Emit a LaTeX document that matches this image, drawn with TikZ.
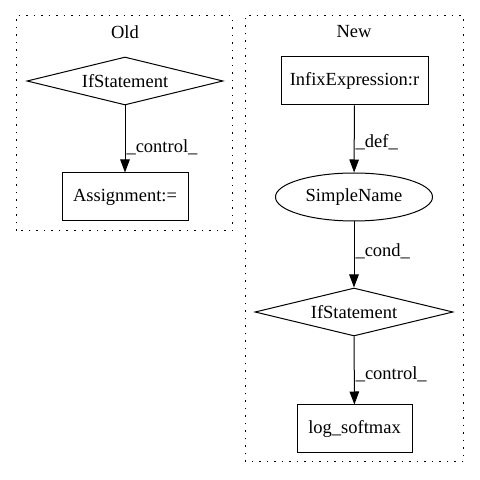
\documentclass[tikz,border=0pt]{standalone}
\usepackage{fontspec}
\setmainfont{Liberation Serif}
\usetikzlibrary{positioning, arrows.meta, shapes.geometric}
\tikzset{
  astnode/.style={
    draw=black, line width=1pt, fill=white,
    minimum height=48pt, inner sep=2pt,
    font=\fontsize{18.5}{22}\selectfont
  },
  astbox/.style={astnode, rectangle},
  astcond/.style={astnode, diamond, aspect=4.1, inner sep=0pt, minimum width=196pt},
  astname/.style={astnode, ellipse, minimum width=157pt},
  cluster/.style={
    draw=black, line width=1pt, dash pattern=on 1.5pt off 6pt
  },
  clustertitle/.style={font=\fontsize{18.5}{22}\selectfont},
  astedge/.style={
    -{Triangle[length=13pt,width=9.5pt]}, draw=black, line width=1pt
  },
  edgelabel/.style={right, inner sep=1pt, font=\fontsize{18.5}{22}\selectfont}
}

\begin{document}
\begin{tikzpicture}[x=1pt, y=1pt]
  \useasboundingbox (0,0) rectangle (480,480);

  % clusters
  \draw[cluster] (16,249) rectangle (232,464);
  \node[clustertitle] (oldtitle) at (125,448) {Old};
  \draw[cluster] (245,18) rectangle (463,464);
  \node[clustertitle] (newtitle) at (354,448) {New};

  % old
  \node[astcond] (oldif) at (125,399) {IfStatement};
  \node[astbox, minimum width=126pt] (assign) at (125,283) {Assignment:=};

  % new
  \node[astbox, minimum width=147pt] (infix) at (354.5,399) {InfixExpression:r};
  \node[astname] (sname) at (354,283) {SimpleName};
  \node[astcond, minimum width=198pt] (newif) at (354,168) {IfStatement};
  \node[astbox, minimum width=115pt] (logsm) at (354.5,51) {log\_softmax};

  \draw[astedge] (oldif) -- node[edgelabel, pos=0.62] {\_control\_} (assign);
  \draw[astedge] (infix) -- node[edgelabel, pos=0.55] {\_def\_} (sname);
  \draw[astedge] (sname) -- node[edgelabel, pos=0.45] {\_cond\_} (newif);
  \draw[astedge] (newif) -- node[edgelabel, pos=0.55] {\_control\_} (logsm);
\end{tikzpicture}
\end{document}
